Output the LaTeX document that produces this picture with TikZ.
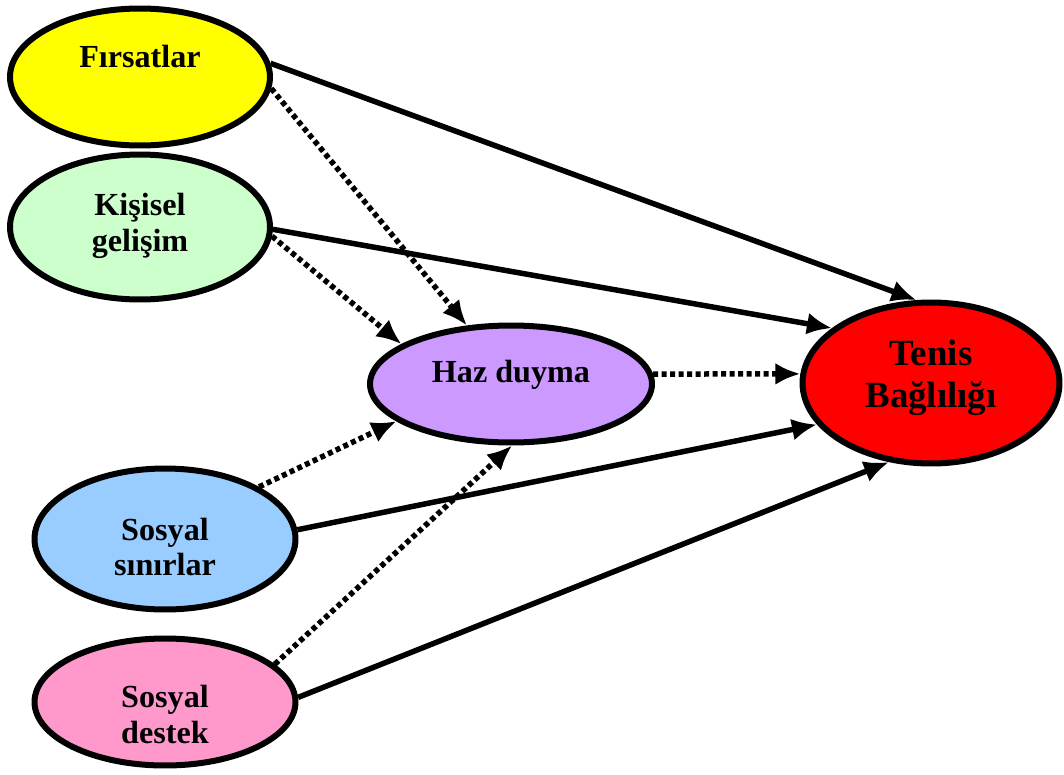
\documentclass[tikz,border=0pt]{standalone}
\usepackage{fontspec}
\setmainfont{Liberation Serif}
\usetikzlibrary{shapes.geometric,arrows.meta}

\definecolor{firsatcol}{HTML}{FFFF00}
\definecolor{gelisimcol}{HTML}{CCFFCC}
\definecolor{hazcol}{HTML}{CC99FF}
\definecolor{teniscol}{HTML}{FF0000}
\definecolor{sinircol}{HTML}{99CCFF}
\definecolor{destekcol}{HTML}{FF99CC}

% one line of text, its baseline raised by #1 above the node centre
\newcommand{\lineat}[2]{\makebox[0pt]{\raisebox{#1}[0pt][0pt]{#2}}}

\begin{document}
\begin{tikzpicture}[x=0.02cm, y=-0.02cm,
    >={Latex[length=0.5cm,width=0.44cm]},
    factor/.style={ellipse, draw, line width=0.12cm, inner sep=0pt,
        font=\fontsize{18.3}{22}\selectfont\bfseries},
    effect/.style={->, line width=0.11cm},
    mediated/.style={->, line width=0.11cm, dash pattern=on 0.1cm off 0.07cm}]
    \useasboundingbox (0,0) rectangle (1064,774);

    \node [factor, fill=firsatcol, minimum width=5.2cm, minimum height=2.74cm]
        (firsat) at (140,77) {\lineat{0.2cm}{F\i rsatlar}};

    \node [factor, fill=gelisimcol, minimum width=5.2cm, minimum height=2.9cm]
        (gelisim) at (140,227) {\lineat{0.24cm}{Kişisel}\lineat{-0.5cm}{gelişim}};

    \node [factor, fill=hazcol, minimum width=5.64cm, minimum height=2.34cm]
        (haz) at (511,384) {\lineat{0.04cm}{Haz duyma}};

    \node [factor, fill=teniscol, minimum width=5.14cm, minimum height=3.22cm,
        font=\fontsize{21}{24}\selectfont\bfseries]
        (tenis) at (931,383) {\lineat{0.36cm}{Tenis}\lineat{-0.48cm}{Bağl\i l\i ğ\i}};

    \node [factor, fill=sinircol, minimum width=5.22cm, minimum height=2.82cm]
        (sinir) at (165,539) {\lineat{-0.02cm}{Sosyal}\lineat{-0.72cm}{s\i n\i rlar}};

    \node [factor, fill=destekcol, minimum width=5.22cm, minimum height=2.54cm]
        (destek) at (165,702) {\lineat{-0.1cm}{Sosyal}\lineat{-0.82cm}{destek}};

    % direct effects
    \draw [effect] (firsat.6) -- (tenis.100);
    \draw [effect] (gelisim.-1) -- (tenis.151);
    \draw [effect] (sinir.4) -- (tenis.200);
    \draw [effect] (destek.2) -- (tenis.242);

    % through haz duyma
    \draw [mediated] (firsat.-5) -- (haz.127);
    \draw [mediated] (gelisim.-4) -- (haz.160);
    \draw [mediated] (sinir.29) -- (haz.198);
    \draw [mediated] (destek.19) -- (haz.271);
    \draw [mediated] (haz.4) -- (tenis.176);
\end{tikzpicture}
\end{document}
